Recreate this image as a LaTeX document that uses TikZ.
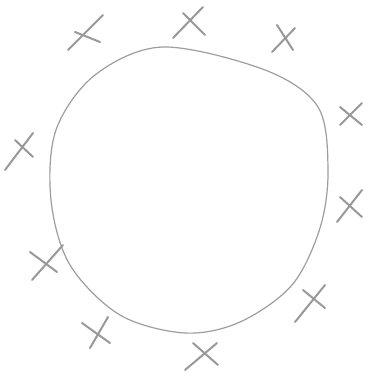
\documentclass[tikz,border=0pt]{standalone}
\begin{document}
\begin{tikzpicture}[x=1pt,y=-1pt,
  pencil/.style={draw=black!38, line width=1.2pt, line cap=round, line join=round},
  xmark/.style={draw=black!40, line width=2pt, line cap=round}]
\useasboundingbox (0,0) rectangle (373,382);
\fill[white] (0,0) rectangle (373,382);
\draw[pencil] plot[smooth cycle, tension=0.55] coordinates {
 (163,47) (265,70) (318,107) (328,170) (320,228) (292,285) (240,322) (185,333)
 (120,315) (70,265) (51,200) (56,130) (95,75)};
% x marks
\draw[xmark] (68,50) -- (103,15) (75,32) -- (100,42);
\draw[xmark] (173,38) -- (203,7) (183,13) -- (205,35);
\draw[xmark] (272,52) -- (295,28) (277,25) -- (293,50);
\draw[xmark] (340,125) -- (362,103) (340,107) -- (362,125);
\draw[xmark] (5,170) -- (33,133) (15,140) -- (33,157);
\draw[xmark] (337,222) -- (362,190) (340,197) -- (362,217);
\draw[xmark] (32,280) -- (63,245) (30,252) -- (57,272);
\draw[xmark] (90,348) -- (108,317) (82,323) -- (110,343);
\draw[xmark] (185,370) -- (217,343) (193,343) -- (218,365);
\draw[xmark] (295,322) -- (325,285) (303,290) -- (325,308);
\end{tikzpicture}
\end{document}
